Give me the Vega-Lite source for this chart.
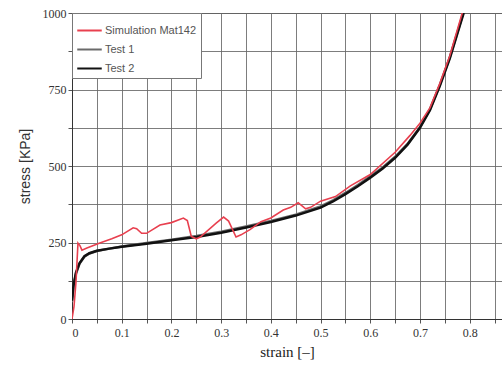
{
  "$schema": "https://vega.github.io/schema/vega-lite/v6.json",
  "autosize": "none",
  "width": 430,
  "height": 306,
  "padding": {"left": 72, "top": 13, "right": 0, "bottom": 55},
  "background": "white",
  "config": {"view": {"stroke": "#555555", "strokeWidth": 1}},
  "datasets": {
    "curves": [
      {"series": "Test 1", "strain": 0, "stress": 55},
      {"series": "Test 1", "strain": 0.003, "stress": 105},
      {"series": "Test 1", "strain": 0.008, "stress": 148},
      {"series": "Test 1", "strain": 0.015, "stress": 180},
      {"series": "Test 1", "strain": 0.025, "stress": 204},
      {"series": "Test 1", "strain": 0.035, "stress": 214},
      {"series": "Test 1", "strain": 0.05, "stress": 222},
      {"series": "Test 1", "strain": 0.075, "stress": 230},
      {"series": "Test 1", "strain": 0.1, "stress": 237},
      {"series": "Test 1", "strain": 0.15, "stress": 248},
      {"series": "Test 1", "strain": 0.2, "stress": 259},
      {"series": "Test 1", "strain": 0.25, "stress": 271},
      {"series": "Test 1", "strain": 0.3, "stress": 285},
      {"series": "Test 1", "strain": 0.35, "stress": 302},
      {"series": "Test 1", "strain": 0.4, "stress": 320},
      {"series": "Test 1", "strain": 0.45, "stress": 341},
      {"series": "Test 1", "strain": 0.5, "stress": 368},
      {"series": "Test 1", "strain": 0.525, "stress": 388},
      {"series": "Test 1", "strain": 0.55, "stress": 412},
      {"series": "Test 1", "strain": 0.575, "stress": 438},
      {"series": "Test 1", "strain": 0.6, "stress": 466},
      {"series": "Test 1", "strain": 0.625, "stress": 495},
      {"series": "Test 1", "strain": 0.65, "stress": 530},
      {"series": "Test 1", "strain": 0.675, "stress": 572},
      {"series": "Test 1", "strain": 0.7, "stress": 627},
      {"series": "Test 1", "strain": 0.72, "stress": 685},
      {"series": "Test 1", "strain": 0.74, "stress": 765},
      {"series": "Test 1", "strain": 0.76, "stress": 855},
      {"series": "Test 1", "strain": 0.775, "stress": 935},
      {"series": "Test 1", "strain": 0.787, "stress": 1000},
      {"series": "Test 2", "strain": 0, "stress": 60},
      {"series": "Test 2", "strain": 0.003, "stress": 110},
      {"series": "Test 2", "strain": 0.008, "stress": 152},
      {"series": "Test 2", "strain": 0.015, "stress": 182},
      {"series": "Test 2", "strain": 0.025, "stress": 205},
      {"series": "Test 2", "strain": 0.035, "stress": 215},
      {"series": "Test 2", "strain": 0.05, "stress": 223},
      {"series": "Test 2", "strain": 0.075, "stress": 230},
      {"series": "Test 2", "strain": 0.1, "stress": 236},
      {"series": "Test 2", "strain": 0.15, "stress": 246},
      {"series": "Test 2", "strain": 0.2, "stress": 257},
      {"series": "Test 2", "strain": 0.25, "stress": 268},
      {"series": "Test 2", "strain": 0.3, "stress": 282},
      {"series": "Test 2", "strain": 0.35, "stress": 299},
      {"series": "Test 2", "strain": 0.4, "stress": 317},
      {"series": "Test 2", "strain": 0.45, "stress": 338},
      {"series": "Test 2", "strain": 0.5, "stress": 364},
      {"series": "Test 2", "strain": 0.525, "stress": 384},
      {"series": "Test 2", "strain": 0.55, "stress": 408},
      {"series": "Test 2", "strain": 0.575, "stress": 434},
      {"series": "Test 2", "strain": 0.6, "stress": 462},
      {"series": "Test 2", "strain": 0.625, "stress": 492},
      {"series": "Test 2", "strain": 0.65, "stress": 527},
      {"series": "Test 2", "strain": 0.675, "stress": 570},
      {"series": "Test 2", "strain": 0.7, "stress": 625},
      {"series": "Test 2", "strain": 0.72, "stress": 682},
      {"series": "Test 2", "strain": 0.74, "stress": 762},
      {"series": "Test 2", "strain": 0.76, "stress": 852},
      {"series": "Test 2", "strain": 0.775, "stress": 932},
      {"series": "Test 2", "strain": 0.788, "stress": 1000},
      {"series": "Simulation Mat142", "strain": 0, "stress": 0},
      {"series": "Simulation Mat142", "strain": 0.004, "stress": 40},
      {"series": "Simulation Mat142", "strain": 0.008, "stress": 120},
      {"series": "Simulation Mat142", "strain": 0.012, "stress": 248},
      {"series": "Simulation Mat142", "strain": 0.016, "stress": 240},
      {"series": "Simulation Mat142", "strain": 0.02, "stress": 225},
      {"series": "Simulation Mat142", "strain": 0.03, "stress": 232},
      {"series": "Simulation Mat142", "strain": 0.056, "stress": 248},
      {"series": "Simulation Mat142", "strain": 0.08, "stress": 262},
      {"series": "Simulation Mat142", "strain": 0.1, "stress": 275},
      {"series": "Simulation Mat142", "strain": 0.123, "stress": 298},
      {"series": "Simulation Mat142", "strain": 0.13, "stress": 295},
      {"series": "Simulation Mat142", "strain": 0.14, "stress": 280},
      {"series": "Simulation Mat142", "strain": 0.15, "stress": 280},
      {"series": "Simulation Mat142", "strain": 0.177, "stress": 307},
      {"series": "Simulation Mat142", "strain": 0.2, "stress": 315},
      {"series": "Simulation Mat142", "strain": 0.224, "stress": 330},
      {"series": "Simulation Mat142", "strain": 0.232, "stress": 322},
      {"series": "Simulation Mat142", "strain": 0.24, "stress": 270},
      {"series": "Simulation Mat142", "strain": 0.25, "stress": 262},
      {"series": "Simulation Mat142", "strain": 0.258, "stress": 268},
      {"series": "Simulation Mat142", "strain": 0.29, "stress": 313},
      {"series": "Simulation Mat142", "strain": 0.305, "stress": 333},
      {"series": "Simulation Mat142", "strain": 0.315, "stress": 320},
      {"series": "Simulation Mat142", "strain": 0.33, "stress": 268},
      {"series": "Simulation Mat142", "strain": 0.34, "stress": 275},
      {"series": "Simulation Mat142", "strain": 0.358, "stress": 292},
      {"series": "Simulation Mat142", "strain": 0.38, "stress": 318},
      {"series": "Simulation Mat142", "strain": 0.4, "stress": 330},
      {"series": "Simulation Mat142", "strain": 0.425, "stress": 356},
      {"series": "Simulation Mat142", "strain": 0.44, "stress": 365},
      {"series": "Simulation Mat142", "strain": 0.455, "stress": 380},
      {"series": "Simulation Mat142", "strain": 0.47, "stress": 360},
      {"series": "Simulation Mat142", "strain": 0.48, "stress": 365},
      {"series": "Simulation Mat142", "strain": 0.5, "stress": 385},
      {"series": "Simulation Mat142", "strain": 0.53, "stress": 400},
      {"series": "Simulation Mat142", "strain": 0.56, "stress": 435},
      {"series": "Simulation Mat142", "strain": 0.6, "stress": 472},
      {"series": "Simulation Mat142", "strain": 0.65, "stress": 545},
      {"series": "Simulation Mat142", "strain": 0.68, "stress": 600},
      {"series": "Simulation Mat142", "strain": 0.7, "stress": 640},
      {"series": "Simulation Mat142", "strain": 0.72, "stress": 690},
      {"series": "Simulation Mat142", "strain": 0.74, "stress": 770},
      {"series": "Simulation Mat142", "strain": 0.76, "stress": 860},
      {"series": "Simulation Mat142", "strain": 0.785, "stress": 1000}
    ]
  },
  "data": {"name": "curves"},
  "encoding": {
    "x": {
      "field": "strain", "type": "quantitative",
      "scale": {"domain": [0, 0.865], "nice": false, "zero": false},
      "axis": {
        "title": "strain [–]",
        "titleFont": "Liberation Serif", "titleFontSize": 15, "titleFontWeight": "normal", "titleColor": "#222",
        "titlePadding": 6,
        "values": [0, 0.05, 0.1, 0.15, 0.2, 0.25, 0.3, 0.35, 0.4, 0.45, 0.5, 0.55, 0.6, 0.65, 0.7, 0.75, 0.8, 0.85],
        "labelExpr": "round(datum.value*100) % 10 == 0 ? format(datum.value, '.1~f') : ''",
        "labelFont": "Liberation Serif", "labelFontSize": 12, "labelColor": "#333",
        "labelPadding": 4,
        "grid": true, "gridColor": "#666", "gridWidth": 1, "gridOpacity": 0.85,
        "domainColor": "#333", "tickColor": "#555", "tickSize": 4
      }
    },
    "y": {
      "field": "stress", "type": "quantitative",
      "scale": {"domain": [0, 1000], "nice": false},
      "axis": {
        "title": "stress [KPa]",
        "titleFont": "Liberation Sans", "titleFontSize": 14, "titleFontWeight": "normal", "titleColor": "#333",
        "titlePadding": 10,
        "values": [0, 125, 250, 375, 500, 625, 750, 875, 1000],
        "labelExpr": "datum.value % 250 == 0 ? format(datum.value, 'd') : ''",
        "labelFont": "Liberation Serif", "labelFontSize": 12, "labelColor": "#333",
        "grid": true, "gridColor": "#666", "gridWidth": 1, "gridOpacity": 0.85,
        "domainColor": "#333", "tickColor": "#555", "tickSize": 4
      }
    },
    "color": {
      "field": "series", "type": "nominal",
      "scale": {"domain": ["Simulation Mat142", "Test 1", "Test 2"], "range": ["#e8404f", "#6a6a6a", "#111111"]},
      "legend": {
        "title": null, "orient": "none", "legendX": 0, "legendY": 0,
        "fillColor": "white", "strokeColor": "#777", "padding": 4,
        "symbolType": "stroke", "symbolSize": 600, "symbolStrokeWidth": 2,
        "labelFont": "Liberation Sans", "labelFontSize": 11, "labelColor": "#555",
        "labelOffset": 2, "rowPadding": 0
      }
    }
  },
  "layer": [
    {"transform": [{"filter": "datum.series == 'Test 1'"}], "mark": {"type": "line", "strokeWidth": 2.5, "clip": true}},
    {"transform": [{"filter": "datum.series == 'Test 2'"}], "mark": {"type": "line", "strokeWidth": 2.5, "clip": true}},
    {"transform": [{"filter": "datum.series == 'Simulation Mat142'"}], "mark": {"type": "line", "strokeWidth": 1.6, "clip": true}}
  ]
}
